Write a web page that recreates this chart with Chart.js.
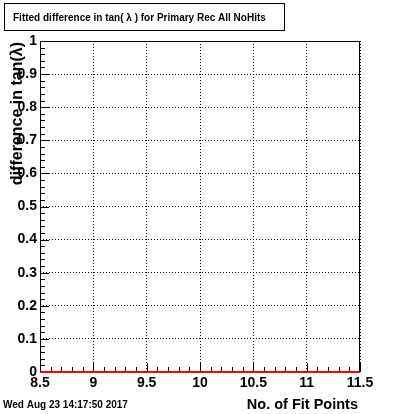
<!DOCTYPE html>
<html><head><meta charset="utf-8">
<script src="https://cdn.jsdelivr.net/npm/chart.js@4/dist/chart.umd.min.js"></script>
<style>html,body{margin:0;padding:0;background:#fff;overflow:hidden}</style>
</head><body>
<canvas id="c" width="400" height="414" style="width:400px;height:414px;display:block"></canvas>
<script>
// ---- data ----
const binEdges = [8.5, 9.5, 10.5, 11.5];
const binValues = [0, 0, 0];
const xTickValues = [8.5, 9, 9.5, 10, 10.5, 11, 11.5];
const yTickValues = [0, 0.1, 0.2, 0.3, 0.4, 0.5, 0.6, 0.7, 0.8, 0.9, 1];
const xMinorStep = 0.1;
const yMinorStep = 0.02;
const titleText = "Fitted difference in tan( \u03bb ) for Primary Rec All NoHits";
const xTitle = "No. of Fit Points";
const yTitle = "difference in tan(\u03bb)";
const dateText = "Wed Aug 23 14:17:50 2017";

const FONT = '"Liberation Sans", Arial, Helvetica, sans-serif';

// step points from histogram bins
const stepPoints = [];
binValues.forEach((v, i) => { stepPoints.push({x: binEdges[i], y: v}); });
stepPoints.push({x: binEdges[binEdges.length - 1], y: binValues[binValues.length - 1]});

const rootPlugin = {
  id: 'rootStyle',
  beforeDatasetsDraw(chart) {
    const ctx = chart.ctx, a = chart.chartArea;
    const xs = chart.scales.x, ys = chart.scales.y;
    ctx.save();
    ctx.strokeStyle = '#000';
    ctx.lineWidth = 1;
    ctx.setLineDash([]);
    // frame
    ctx.strokeRect(a.left + 0.5, a.top + 0.5, a.right - a.left - 1, a.bottom - a.top);
    // x ticks (inward)
    ctx.beginPath();
    for (let v = xs.min; v <= xs.max + 1e-9; v += xMinorStep) {
      const r = Math.round(v * 10) / 10;
      const major = xTickValues.some(t => Math.abs(t - r) < 1e-6);
      const px = Math.round(xs.getPixelForValue(r)) + 0.5;
      const len = major ? 9 : 5;
      ctx.moveTo(px, a.bottom);
      ctx.lineTo(px, a.bottom - len);
    }
    // y ticks (inward)
    for (let v = ys.min; v <= ys.max + 1e-9; v += yMinorStep) {
      const r = Math.round(v * 100) / 100;
      const major = yTickValues.some(t => Math.abs(t - r) < 1e-6);
      const py = Math.round(ys.getPixelForValue(r)) + 0.5;
      const len = major ? 9 : 5;
      ctx.moveTo(a.left, py);
      ctx.lineTo(a.left + len, py);
    }
    ctx.stroke();
    ctx.restore();
  },
  afterDraw(chart) {
    const ctx = chart.ctx, a = chart.chartArea;
    ctx.save();
    // title box
    ctx.fillStyle = '#fff';
    ctx.fillRect(4, 3, 281, 27);
    ctx.strokeStyle = '#000';
    ctx.lineWidth = 1;
    ctx.strokeRect(4.5, 3.5, 280, 27);
    ctx.fillStyle = '#000';
    ctx.font = 'bold 10px ' + FONT;
    ctx.textBaseline = 'alphabetic';
    ctx.textAlign = 'left';
    ctx.fillText(titleText, 13, 21);
    // y title
    ctx.save();
    ctx.translate(22, a.top + 1);
    ctx.rotate(-Math.PI / 2);
    ctx.textAlign = 'right';
    ctx.font = 'bold 16px ' + FONT;
    ctx.fillText(yTitle, 0, 0);
    ctx.restore();
    // x title
    ctx.textAlign = 'right';
    ctx.font = 'bold 14.5px ' + FONT;
    ctx.fillText(xTitle, a.right - 2, 409);
    // date
    ctx.textAlign = 'left';
    ctx.font = 'bold 10px ' + FONT;
    ctx.fillText(dateText, 3, 408);
    ctx.restore();
  }
};

const fmt = v => String(+(+v).toFixed(2));

new Chart(document.getElementById('c'), {
  type: 'line',
  data: {
    datasets: [{
      data: stepPoints,
      stepped: 'before',
      borderColor: '#ff0000',
      backgroundColor: '#ff0000',
      borderWidth: 2,
      pointRadius: 0,
      fill: false,
      clip: false
    }]
  },
  options: {
    responsive: false,
    animation: false,
    devicePixelRatio: 1,
    layout: {padding: {left: 0, top: 41, right: 40, bottom: 0}},
    plugins: {legend: {display: false}, tooltip: {enabled: false}, title: {display: false}},
    scales: {
      x: {
        type: 'linear', min: 8.5, max: 11.5,
        afterBuildTicks: s => { s.ticks = xTickValues.map(v => ({value: v})); },
        afterFit: s => { s.height = 42; },
        ticks: {
          color: '#000', font: {family: FONT, size: 14, weight: 'bold'},
          padding: 3, autoSkip: false, maxRotation: 0, minRotation: 0,
          callback: v => fmt(v)
        },
        grid: {color: '#000', lineWidth: 1, drawTicks: false},
        border: {display: false, dash: [1, 2]}
      },
      y: {
        type: 'linear', min: 0, max: 1,
        afterBuildTicks: s => { s.ticks = yTickValues.map(v => ({value: v})); },
        afterFit: s => { s.width = 40; },
        ticks: {
          color: '#000', font: {family: FONT, size: 14, weight: 'bold'},
          padding: 3, autoSkip: false,
          callback: v => fmt(v)
        },
        grid: {color: '#000', lineWidth: 1, drawTicks: false},
        border: {display: false, dash: [1, 2]}
      }
    }
  },
  plugins: [rootPlugin]
});
</script>
</body></html>
